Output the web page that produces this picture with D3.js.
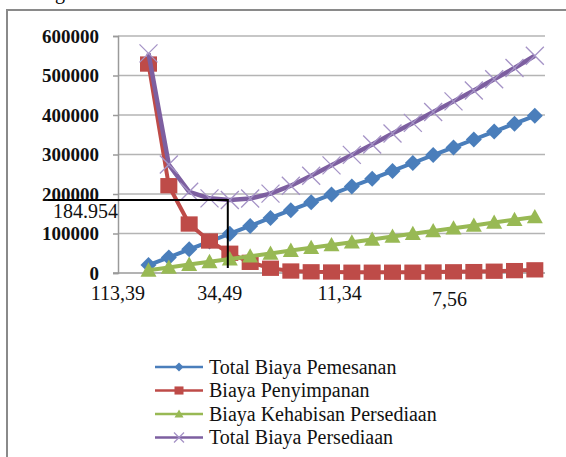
<!DOCTYPE html>
<html>
<head>
<meta charset="utf-8">
<script src="https://cdn.jsdelivr.net/npm/d3@7"></script>
<style>
  body { margin: 0; background: #fff; }
  text { font-family: "Liberation Serif", "Times New Roman", serif; }
</style>
</head>
<body>
<div id="chart"></div>
<script>
// 21 category slots, the first one is empty in the original sheet
var categories = [0, 1, 2, 3, 4, 5, 6, 7, 8, 9, 10, 11, 12, 13, 14, 15, 16, 17, 18, 19, 20];

var pemesanan = [null, 20000, 39500, 60000, 79500, 99500, 119000, 139500, 159000, 179000, 199000,
  219000, 238500, 258500, 278500, 298500, 318000, 338000, 358000, 378000, 398000];
var penyimpanan = [null, 529000, 221000, 124000, 81000, 50000, 27000, 12000, 5000, 3000, 2500,
  2000, 2000, 2000, 2000, 2500, 3000, 3500, 4500, 6000, 8000];
var kehabisan = [null, 7000, 14000, 21500, 28500, 35500, 42500, 49500, 57000, 64000, 71000,
  78000, 85000, 92500, 99500, 106500, 113500, 120500, 128000, 135000, 142000];
var totalPersediaan = [null, 556000, 274500, 205500, 189000, 184954, 188500, 201000, 221000, 246000, 272500,
  299000, 325500, 353000, 380000, 407500, 434500, 462000, 490500, 519000, 550000];

var yTicks = [0, 100000, 200000, 300000, 400000, 500000, 600000];
// text labels under the axis, placed in category units
var xLabels = ["113,39", "34,49", "11,34", "7,56"];
var xLabelAt = [0, 5, 10.9, 16.3];
var optimum = { at: 5.4, value: 184954, label: "184.954" };

var seriesNames = ["Total Biaya Pemesanan", "Biaya Penyimpanan", "Biaya Kehabisan Persediaan", "Total Biaya Persediaan"];
var colors = ["#4a7ebb", "#be4b48", "#98b954", "#7d5fa0"];

var svgWidth = 566, svgHeight = 457;
var plot = { left: 118, right: 545, top: 36, bottom: 273 };

var svg = d3.select("#chart").append("svg")
  .attr("width", svgWidth)
  .attr("height", svgHeight);

svg.append("rect").attr("width", svgWidth).attr("height", svgHeight).attr("fill", "#fff");

// bit of page text cut off above the chart frame
svg.append("text").attr("x", 55).attr("y", -1.5).style("font-size", "20px").text("g");

// chart frame (continues past the right and bottom edges)
svg.append("path")
  .attr("d", "M7," + svgHeight + "V10H" + svgWidth)
  .attr("fill", "none")
  .attr("stroke", "#8a8a8a")
  .attr("stroke-width", 2);

var x = d3.scaleLinear().domain([0, categories.length]).range([plot.left, plot.right]);
var y = d3.scaleLinear().domain([0, 600000]).range([plot.bottom, plot.top]);
var cx = function(i) { return x(i + 0.5); };

// gridlines
svg.append("g").selectAll("line")
  .data(yTicks.slice(1))
  .enter().append("line")
  .attr("x1", plot.left).attr("x2", plot.right)
  .attr("y1", function(d) { return y(d); })
  .attr("y2", function(d) { return y(d); })
  .attr("stroke", "#b4b4b4")
  .attr("stroke-width", 1.5);

// y axis
var leftAxis = d3.axisLeft(y).tickValues(yTicks).tickSize(5).tickPadding(14).tickFormat(d3.format("d"));
var yAxis = svg.append("g").attr("transform", "translate(" + plot.left + ",0)").call(leftAxis);
yAxis.select(".domain").attr("stroke", "#9a9a9a").attr("stroke-width", 1.5);
yAxis.selectAll(".tick line").attr("stroke", "#9a9a9a").attr("stroke-width", 1.5);
yAxis.selectAll(".tick text")
  .attr("fill", "#111")
  .style("font-family", "'Liberation Serif', serif")
  .style("font-size", "19px")
  .style("font-weight", "bold");

// x axis line
svg.append("line")
  .attr("x1", plot.left - 5).attr("x2", plot.right)
  .attr("y1", y(0)).attr("y2", y(0))
  .attr("stroke", "#9a9a9a").attr("stroke-width", 1.5);

svg.append("g").selectAll("text")
  .data(xLabels)
  .enter().append("text")
  .attr("x", function(d, i) { return x(xLabelAt[i]); })
  .attr("y", function(d, i) { return i === 3 ? 306 : 300; })
  .attr("text-anchor", "middle")
  .style("font-size", "20px")
  .attr("fill", "#111")
  .text(function(d) { return d; });

// marker shapes
function marker(g, k, s) {
  if (k === 0) {
    g.append("path").attr("d", "M0," + (-s) + "L" + s + ",0L0," + s + "L" + (-s) + ",0Z").attr("fill", colors[0]);
  } else if (k === 1) {
    g.append("rect").attr("x", -s).attr("y", -s * 0.9).attr("width", 2 * s).attr("height", 1.8 * s).attr("fill", colors[1]);
  } else if (k === 2) {
    g.append("path").attr("d", "M0," + (-s) + "L" + s + "," + (s * 0.8) + "L" + (-s) + "," + (s * 0.8) + "Z").attr("fill", colors[2]);
  } else {
    g.append("path").attr("d", "M" + (-s) + "," + (-s) + "L" + s + "," + s + "M" + (-s) + "," + s + "L" + s + "," + (-s))
      .attr("stroke", "#a593c6").attr("stroke-width", 1.3).attr("fill", "none");
  }
}

var allSeries = [pemesanan, penyimpanan, kehabisan, totalPersediaan];
var markerSize = [8, 8.5, 8, 9];
var lineWidth = [4, 4, 4, 4.5];

var line = d3.line()
  .defined(function(d) { return d != null; })
  .x(function(d, i) { return cx(i); })
  .y(function(d) { return y(d); });

allSeries.forEach(function(values, k) {
  var g = svg.append("g");
  g.append("path")
    .datum(values)
    .attr("d", line)
    .attr("fill", "none")
    .attr("stroke", colors[k])
    .attr("stroke-width", lineWidth[k])
    .attr("stroke-linejoin", "round");
  values.forEach(function(v, i) {
    if (v == null) return;
    var m = g.append("g").attr("transform", "translate(" + cx(i) + "," + y(v) + ")");
    marker(m, k, markerSize[k]);
  });
});

// optimum annotation
svg.append("path")
  .attr("d", "M48," + y(optimum.value) + "H" + x(optimum.at) + "V268")
  .attr("fill", "none")
  .attr("stroke", "#000")
  .attr("stroke-width", 2);
svg.append("text")
  .attr("x", 53).attr("y", y(optimum.value) + 18)
  .style("font-size", "20px")
  .attr("fill", "#111")
  .text(optimum.label);

// legend
var legend = svg.append("g").attr("transform", "translate(155,367)");
seriesNames.forEach(function(name, k) {
  var row = legend.append("g").attr("transform", "translate(0," + (k * 23.5) + ")");
  row.append("line").attr("x1", 0).attr("x2", 48).attr("y1", 0).attr("y2", 0)
    .attr("stroke", colors[k]).attr("stroke-width", 2.5);
  var m = row.append("g").attr("transform", "translate(24,0)");
  marker(m, k, k === 3 ? 5 : 4.5);
  row.append("text").attr("x", 54).attr("y", 6.5)
    .style("font-size", "20px")
    .attr("fill", "#111")
    .text(name);
});
</script>
</body>
</html>
